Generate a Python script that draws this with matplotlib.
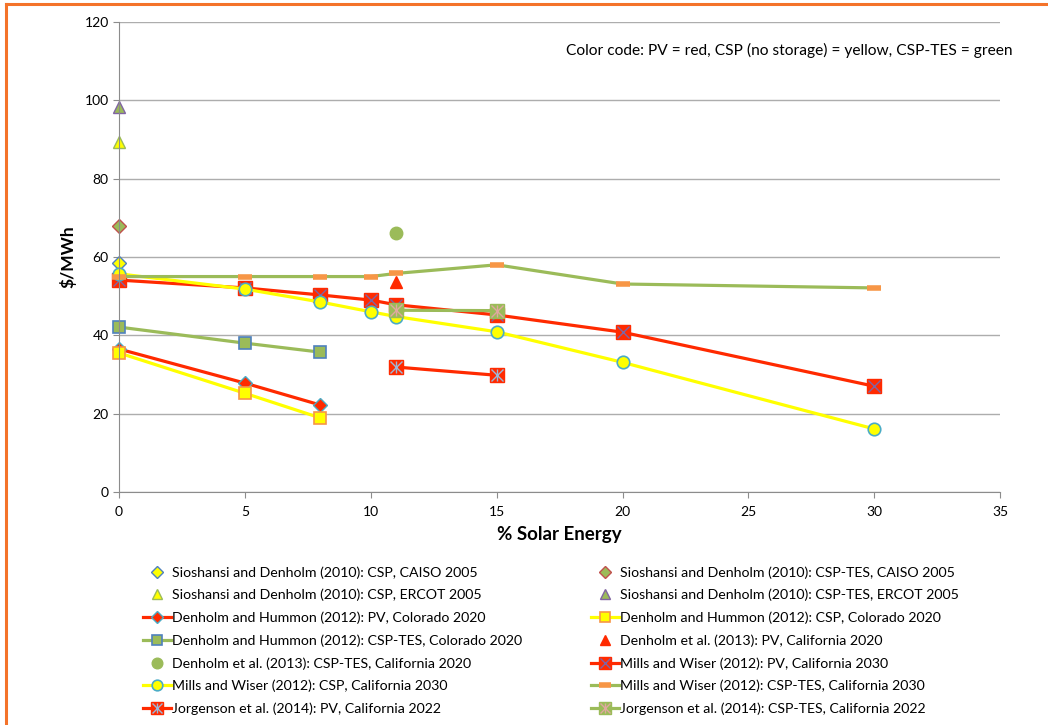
import matplotlib.pyplot as plt
from matplotlib.lines import Line2D

plt.rcParams['font.family'] = ['Lato', 'DejaVu Sans']

# colours (Excel palette)
RED = '#FF2A00'
YELLOW = '#FFFF00'
GREEN = '#9BBB59'
BLUE = '#4F81BD'
AQUA = '#4BACC6'
ORANGE = '#F79646'
BROWN = '#C0504D'
PURPLE = '#8064A2'

# ---- data ----
sd_csp_caiso_x = [0]
sd_csp_caiso_y = [58.5]
sd_tes_caiso_x = [0]
sd_tes_caiso_y = [68]
sd_csp_ercot_x = [0]
sd_csp_ercot_y = [89.4]
sd_tes_ercot_x = [0]
sd_tes_ercot_y = [98.3]

dh_pv_x = [0, 5, 8]
dh_pv_y = [36.5, 27.8, 22.2]
dh_csp_x = [0, 5, 8]
dh_csp_y = [35.5, 25.2, 18.9]
dh_tes_x = [0, 5, 8]
dh_tes_y = [42.1, 38.0, 35.7]

d13_pv_x = [11]
d13_pv_y = [53.6]
d13_tes_x = [11]
d13_tes_y = [66.1]

mw_x = [0, 5, 8, 10, 11, 15, 20, 30]
mw_pv_y = [54.1, 52.1, 50.3, 49.0, 47.8, 45.2, 40.8, 27.0]
mw_csp_y = [55.7, 51.8, 48.5, 46.0, 44.8, 40.9, 33.1, 16.1]
mw_tes_y = [55.0, 55.0, 55.0, 55.0, 55.8, 58.0, 53.1, 52.1]

jo_x = [11, 15]
jo_pv_y = [31.9, 29.8]
jo_tes_y = [46.4, 46.3]

labels = [
    'Sioshansi and Denholm (2010): CSP, CAISO 2005',
    'Sioshansi and Denholm (2010): CSP-TES, CAISO 2005',
    'Sioshansi and Denholm (2010): CSP, ERCOT 2005',
    'Sioshansi and Denholm (2010): CSP-TES, ERCOT 2005',
    'Denholm and Hummon (2012): PV, Colorado 2020',
    'Denholm and Hummon (2012): CSP, Colorado 2020',
    'Denholm and Hummon (2012): CSP-TES, Colorado 2020',
    'Denholm et al. (2013): PV, California 2020',
    'Denholm et al. (2013): CSP-TES, California 2020',
    'Mills and Wiser (2012): PV, California 2030',
    'Mills and Wiser (2012): CSP, California 2030',
    'Mills and Wiser (2012): CSP-TES, California 2030',
    'Jorgenson et al. (2014): PV, California 2022',
    'Jorgenson et al. (2014): CSP-TES, California 2022',
]

fig = plt.figure(figsize=(10.48, 7.25), dpi=100)
ax = fig.add_axes([0.1136, 0.3214, 0.8407, 0.6483])

lw = 2.3
handles = []


def pl(x, y, **kw):
    return ax.plot(x, y, clip_on=False, **kw)[0]


# single points at 0%
handles.append(pl(sd_csp_caiso_x, sd_csp_caiso_y, ls='none', marker='D', ms=7, mfc=YELLOW, mec=BLUE, mew=1))
handles.append(pl(sd_tes_caiso_x, sd_tes_caiso_y, ls='none', marker='D', ms=7, mfc=GREEN, mec=BROWN, mew=1))
handles.append(pl(sd_csp_ercot_x, sd_csp_ercot_y, ls='none', marker='^', ms=9, mfc=YELLOW, mec=GREEN, mew=1))
handles.append(pl(sd_tes_ercot_x, sd_tes_ercot_y, ls='none', marker='^', ms=9, mfc=GREEN, mec=PURPLE, mew=1))

# Denholm and Hummon
handles.append(pl(dh_pv_x, dh_pv_y, color=RED, lw=lw, marker='D', ms=7, mfc=RED, mec=AQUA, mew=1))
handles.append(pl(dh_csp_x, dh_csp_y, color=YELLOW, lw=lw, marker='s', ms=9, mfc=YELLOW, mec=ORANGE, mew=1.2))
handles.append(pl(dh_tes_x, dh_tes_y, color=GREEN, lw=lw, marker='s', ms=9, mfc=GREEN, mec=BLUE, mew=1.2))

# Denholm et al. 2013
handles.append(pl(d13_pv_x, d13_pv_y, ls='none', marker='^', ms=9, mfc=RED, mec=RED))
handles.append(pl(d13_tes_x, d13_tes_y, ls='none', marker='o', ms=9, mfc=GREEN, mec=GREEN))

# Mills and Wiser
h1 = pl(mw_x, mw_pv_y, color=RED, lw=lw, marker='s', ms=10, mfc=RED, mec=RED)
h2 = pl(mw_x, mw_pv_y, ls='none', marker='x', ms=8, mec=PURPLE, mew=1)
handles.append((h1, h2))
handles.append(pl(mw_x, mw_csp_y, color=YELLOW, lw=lw, marker='o', ms=9, mfc=YELLOW, mec=AQUA, mew=1.2))
handles.append(pl(mw_x, mw_tes_y, color=GREEN, lw=lw, marker='_', ms=10, mec=ORANGE, mew=4))

# Jorgenson et al.
h1 = pl(jo_x, jo_pv_y, color=RED, lw=lw, marker='s', ms=10, mfc=RED, mec=RED)
h2 = pl(jo_x, jo_pv_y, ls='none', marker='x', ms=8, mec='#9DB8D8', mew=1)
h3 = pl(jo_x, jo_pv_y, ls='none', marker='|', ms=8, mec='#9DB8D8', mew=1)
handles.append((h1, h2, h3))
h1 = pl(jo_x, jo_tes_y, color=GREEN, lw=lw, marker='s', ms=10, mfc=GREEN, mec=GREEN)
h2 = pl(jo_x, jo_tes_y, ls='none', marker='x', ms=8, mec='#E0A8A0', mew=1)
h3 = pl(jo_x, jo_tes_y, ls='none', marker='|', ms=8, mec='#E0A8A0', mew=1)
handles.append((h1, h2, h3))

# axes styling
ax.set_xlim(0, 35)
ax.set_ylim(0, 120)
ax.set_xticks(range(0, 36, 5))
ax.set_yticks(range(0, 121, 20))
ax.yaxis.grid(True, color='#ADADAD', lw=1)
ax.set_axisbelow(True)
for s in ['top', 'right']:
    ax.spines[s].set_visible(False)
for s in ['left', 'bottom']:
    ax.spines[s].set_color('#8C8C8C')
ax.tick_params(colors='#8C8C8C', labelcolor='black', labelsize=10, length=4)
ax.tick_params(axis='x', pad=6)

ax.set_xlabel('% Solar Energy', fontsize=13.5, fontweight='bold', labelpad=6)
ax.set_ylabel('$/MWh', fontsize=12.5, fontweight='bold', labelpad=6)

ax.text(1.0136, 0.955, 'Color code: PV = red, CSP (no storage) = yellow, CSP-TES = green',
        transform=ax.transAxes, ha='right', va='top', fontsize=11.2)

# legend: two columns, row-major like the original
left_idx = list(range(0, 14, 2))
right_idx = list(range(1, 14, 2))
leg_kw = dict(frameon=False, fontsize=10.2, handlelength=1.95, handletextpad=0.1,
              labelspacing=0.72, borderpad=0, markerscale=0.85, loc='upper left')
fig.legend([handles[i] for i in left_idx], [labels[i] for i in left_idx],
           bbox_to_anchor=(136 / 1048, 1 - 559 / 725), **leg_kw)
fig.legend([handles[i] for i in right_idx], [labels[i] for i in right_idx],
           bbox_to_anchor=(584 / 1048, 1 - 559 / 725), **leg_kw)

# orange frame (top and left edges visible)
fig.add_artist(Line2D([6 / 1048, 6 / 1048], [0, 1 - 4 / 725], color='#F4732A', lw=2.2))
fig.add_artist(Line2D([6 / 1048, 1], [1 - 4 / 725, 1 - 4 / 725], color='#F4732A', lw=2.2))

plt.savefig('out.png', dpi=100)
